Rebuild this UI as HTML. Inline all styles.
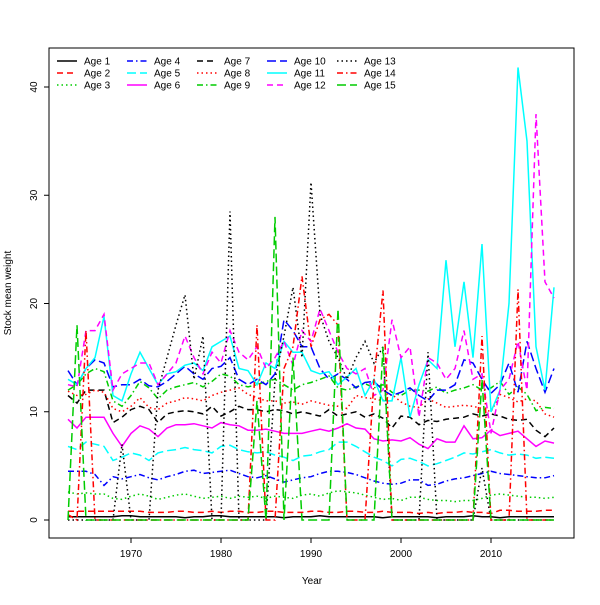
<!DOCTYPE html>
<html><head><meta charset="utf-8"><style>body{margin:0;background:#fff}svg{font-family:"Liberation Sans",sans-serif}</style></head>
<body>
<svg id="c" width="600" height="600">
<rect x="0" y="0" width="600" height="600" fill="#fff"/>
</svg>
<script>
const years=[];for(let y=1963;y<=2017;y++)years.push(y);
const age1=[0.3,0.3,0.3,0.3,0.3,0.3,0.4,0.4,0.3,0.3,0.3,0.3,0.3,0.2,0.3,0.3,0.4,0.4,0.3,0.3,0.3,0.3,0.3,0.3,0.2,0.3,0.3,0.3,0.4,0.3,0.3,0.3,0.3,0.3,0.3,0.2,0.3,0.3,0.3,0.3,0.3,0.2,0.3,0.3,0.3,0.4,0.3,0.3,0.2,0.3,0.3,0.3,0.3,0.3,0.3];
const age2=[0.8,0.8,0.8,0.8,0.8,0.8,0.8,0.8,0.8,0.7,0.7,0.7,0.8,0.8,0.7,0.7,0.8,0.7,0.8,0.8,0.7,0.7,0.8,0.8,0.7,0.7,0.7,0.8,0.8,0.7,0.7,0.8,0.8,0.7,0.7,0.8,0.7,0.7,0.7,0.6,0.7,0.6,0.7,0.7,0.8,0.7,0.7,0.6,0.9,0.9,0.8,0.8,0.8,0.9,0.9];
const age3=[2.6,2.4,2.5,2.4,2.4,2.0,1.9,2.2,2.4,2.2,1.9,2.1,2.3,2.4,2.2,2.0,2.1,2.2,2.0,2.2,2.1,2.2,2.0,2.2,2.1,2.0,2.3,2.4,2.2,2.5,2.7,2.6,2.5,2.3,2.1,1.9,2.0,1.8,2.1,2.1,1.9,1.8,1.8,1.7,1.8,1.8,2.0,2.3,2.4,2.3,2.2,2.1,2.1,2.0,2.1];
const age4=[4.5,4.5,4.5,4.2,3.2,4.0,3.8,4.0,4.2,3.9,3.7,4.0,4.2,4.5,4.6,4.3,4.4,4.5,4.6,4.3,4.0,3.9,4.1,3.8,3.5,3.7,3.9,4.0,4.3,4.5,4.5,4.4,4.2,3.9,3.6,3.4,3.3,3.4,3.7,3.7,3.2,3.3,3.6,3.8,3.9,4.1,4.3,4.5,4.3,4.2,4.1,4.0,3.9,3.9,4.1];
const age5=[6.8,6.5,7.2,7.0,6.8,5.5,5.8,6.2,6.0,5.5,6.2,6.4,6.5,6.7,6.5,6.4,6.2,6.8,6.9,6.5,6.3,6.2,6.3,6.0,5.8,5.5,5.9,6.0,6.3,6.5,7.2,7.2,6.8,6.3,5.8,5.5,5.0,5.6,5.7,5.4,5.0,5.2,5.5,5.8,6.2,6.1,6.3,6.5,6.2,6.0,6.1,6.0,5.7,5.8,5.7];
const age6=[9.3,8.5,9.5,9.5,9.5,8.0,6.8,8.0,8.7,8.4,7.7,8.5,8.8,8.8,8.9,8.7,8.5,9.0,8.8,8.7,8.3,8.3,8.4,8.2,8.0,8.0,8.0,8.2,8.4,8.2,8.5,8.9,8.5,8.4,7.5,7.3,7.4,7.3,7.6,7.0,6.6,7.5,7.2,7.2,8.7,7.5,7.6,8.3,7.8,8.0,8.2,7.5,6.8,7.3,7.1];
const age7=[11.5,10.8,12.0,12.0,12.0,9.0,9.5,10.2,10.5,10.2,9.0,9.8,10.0,10.1,10.0,9.8,10.5,9.6,10.0,10.5,10.2,10.2,10.0,10.2,10.1,9.8,10.0,9.8,9.6,10.2,9.6,9.8,10.0,9.5,9.8,9.4,8.5,9.6,9.5,8.8,9.2,9.1,9.3,9.4,9.5,9.8,9.6,9.8,9.6,9.3,9.2,9.3,8.3,7.7,8.5];
const age8=[11.9,11.5,11.6,12.0,11.8,10.3,10.0,10.5,11.3,10.4,10.2,10.8,11.0,11.3,11.2,11.0,11.5,11.8,12.0,12.2,11.6,11.3,11.0,11.0,10.8,10.9,10.7,11.0,10.8,10.6,10.5,10.3,11.5,11.3,11.2,11.0,11.6,10.9,10.5,10.4,11.2,10.8,10.4,10.5,10.6,10.5,10.3,10.0,11.6,11.3,10.9,11.2,11.0,9.8,9.5];
const age9=[12.0,12.5,13.5,14.0,13.7,11.0,10.5,11.5,12.8,12.2,11.2,12.0,12.3,12.5,12.7,12.3,12.8,13.5,13.3,12.5,12.3,12.5,12.8,13.0,12.5,12.0,12.5,12.7,13.0,13.3,12.2,12.0,12.3,12.6,12.2,12.5,11.8,11.5,12.0,12.0,11.9,12.3,11.7,12.0,12.2,12.5,12.0,12.2,12.8,11.6,12.3,11.6,10.1,10.4,10.3];
const age10=[13.8,12.5,14.0,14.8,14.5,12.3,12.5,12.5,13.0,12.4,12.3,12.8,13.5,14.2,13.5,13.0,14.0,14.2,15.0,13.0,12.5,13.0,12.5,13.5,18.5,17.5,16.0,16.0,14.0,13.0,13.5,13.0,12.2,12.7,12.8,12.0,11.5,11.8,12.2,11.5,11.0,12.0,12.0,12.5,14.8,14.5,13.0,11.7,12.5,14.5,11.8,16.5,14.0,11.8,14.0];
const age11=[13.0,12.5,14.0,15.0,18.8,11.5,11.0,13.5,15.5,14.0,12.5,13.5,13.7,14.3,14.5,13.8,16.0,16.5,17.0,14.0,13.8,12.5,14.5,14.0,16.5,15.5,15.5,13.8,13.5,13.7,12.5,13.2,14.0,11.5,13.0,11.0,11.0,15.0,9.5,12.5,14.8,14.0,24.0,16.0,22.0,15.0,25.5,10.0,12.0,20.0,41.8,35.0,16.0,12.0,21.5];
const age12=[12.5,12.3,17.5,17.5,19.0,12.0,13.5,14.0,14.5,14.5,12.5,13.5,14.5,17.0,15.0,13.5,15.5,14.5,17.5,15.5,14.8,16.0,14.0,15.0,16.5,14.3,17.5,16.5,19.5,17.5,15.5,14.0,13.5,14.0,11.5,12.0,18.5,15.0,16.0,9.5,15.0,14.5,13.0,14.0,17.5,13.0,13.5,8.0,12.0,13.0,16.5,12.0,37.5,22.0,20.5];
const age13=[0,0,0,0,0,0,7.0,0,0,0,12.0,15.0,18.0,20.8,13.0,17.0,0,0,28.5,0,0,0,0,13.0,17.0,21.5,15.0,31.2,19.0,16.5,15.0,13.0,15.0,16.5,14.5,16.0,0,0,0,0,15.5,0,0,0,0,0,4.8,0,0,0,0,0,0,0,0];
const age14=[0.5,0,17.5,0,0,0,0,0,0,0,0,0,0,0,0,0,0,0,0,0,0,18.0,0,0,14.0,16.0,22.5,16.0,18.5,19.0,18.0,0,0,0,13.0,21.2,0,0,0,0,0,0,0,0,0,0,17.0,0,0,0,21.3,0,0,0,0];
const age15=[0,18.0,0,0,0,0,0,0,0,0,0,0,0,0,0,0,0,0,0,0,0,11.0,0,28.0,0,15.0,0,0,0,0,19.5,0,0,0,0,16.0,0,0,0,0,0,0,0,0,0,0,13.0,0,0,0,0,0,0,0,0];
const seriesNames=["Age 1","Age 2","Age 3","Age 4","Age 5","Age 6","Age 7","Age 8","Age 9","Age 10","Age 11","Age 12","Age 13","Age 14","Age 15"];
const series=[age1,age2,age3,age4,age5,age6,age7,age8,age9,age10,age11,age12,age13,age14,age15];
const xTicks=[1970,1980,1990,2000,2010];
const yTicks=[0,10,20,30,40];

const NS="http://www.w3.org/2000/svg";
const svg=document.getElementById('c');
function X(v){return 131+(v-1970)*9;}
function Y(v){return 520-v*10.825;}
function mk(t,a,p){const e=document.createElementNS(NS,t);for(const k in a)e.setAttribute(k,a[k]);(p||svg).appendChild(e);return e;}
const colors=["#000","#f00","#0c0","#00f","#0ff","#f0f"];
const dashes=["","6,4","1.5,3","6,3,1.5,3","9,4"];

const frame=mk('rect',{x:49,y:48,width:525,height:490,fill:'none',stroke:'#000','stroke-width':1});



const gl=mk('g',{});


series.forEach((s,i)=>{
  const pts=s.map((v,j)=>X(years[j]).toFixed(1)+','+Y(v).toFixed(1)).join(' ');
  const pl=mk('polyline',{points:pts,fill:'none',stroke:colors[i%6],'stroke-width':1.5,'stroke-dasharray':dashes[i%5]},gl);
  
  
});

xTicks.forEach(t=>{
  mk('line',{x1:X(t),x2:X(t),y1:538,y2:543,stroke:'#000'});
  const tx=mk('text',{x:X(t),y:557,'font-size':10,'text-anchor':'middle'});
  tx.textContent=t;
  
  
});
yTicks.forEach(t=>{
  mk('line',{x1:44,x2:49,y1:Y(t),y2:Y(t),stroke:'#000'});
  const tx=mk('text',{x:37,y:Y(t),'font-size':10,'text-anchor':'middle',transform:`rotate(-90 37 ${Y(t)})`});
  tx.textContent=t;
  
  
});
const xt=mk('text',{x:312,y:584,'font-size':10,'text-anchor':'middle'});
xt.textContent='Year';


const yt=mk('text',{x:11,y:293,'font-size':10,'text-anchor':'middle',transform:'rotate(-90 11 293)'});
yt.textContent='Stock mean weight';



const lg=mk('g',{});


const colX=[57,127,197,267,337];
seriesNames.forEach((n,i)=>{
  const c=Math.floor(i/3),r=i%3;
  const x=colX[c],y=61+r*12;
  mk('line',{x1:x,x2:x+20,y1:y,y2:y,stroke:colors[i%6],'stroke-width':1.5,'stroke-dasharray':dashes[i%5]},lg);
  const t=mk('text',{x:x+27,y:y+3.5,'font-size':10},lg);
  t.textContent=n;
  
  
});
</script>
</body></html>
